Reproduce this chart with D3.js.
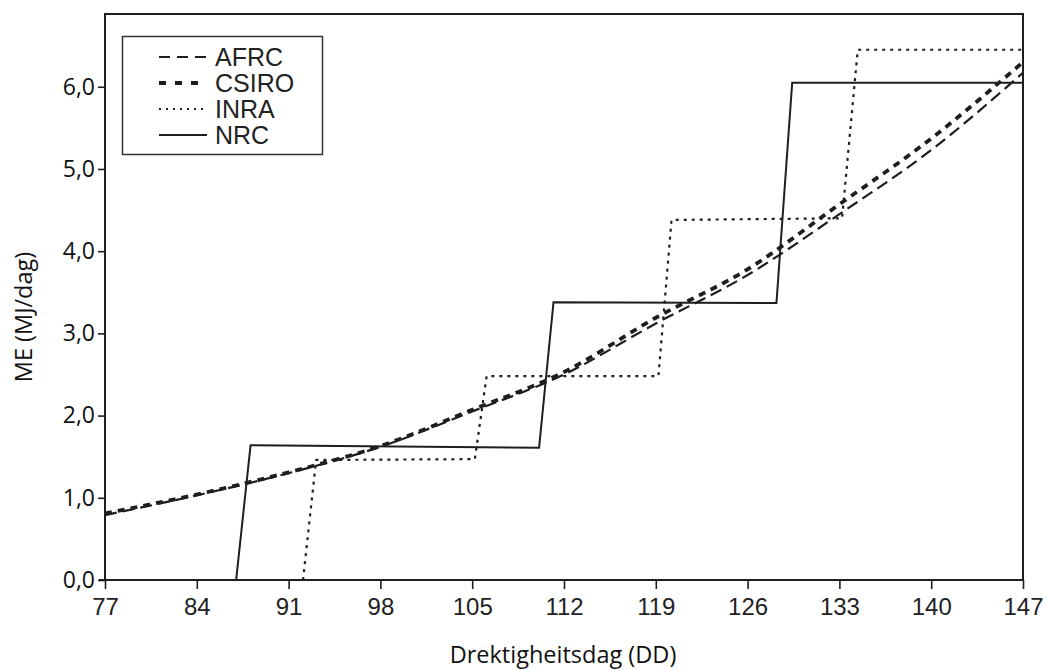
<!DOCTYPE html>
<meta charset="utf-8">
<body style="margin:0; background:#fff;">
<div id="chart"></div>
<style>
body { margin: 0; }
.tick text.xlab { font-family: 'Liberation Sans', Arial, sans-serif; font-size: 24px; fill: #222; }
.tick text.ylab { font-family: 'Open Sans', sans-serif; font-size: 23px; fill: #111; }
.title { font-family: 'Open Sans', sans-serif; font-size: 23.5px; fill: #111; }
.legend text { font-family: 'Liberation Sans', Arial, sans-serif; font-size: 25px; fill: #222; }
</style>
<script src="https://d3js.org/d3.v7.min.js"></script>
<script>
// Chart data
var days = [77, 84, 91, 98, 105, 112, 119, 126, 133, 140, 147];
var afrc = [0.79, 1.03, 1.30, 1.62, 2.05, 2.50, 3.12, 3.71, 4.45, 5.23, 6.17];
var csiro = [0.81, 1.04, 1.31, 1.63, 2.07, 2.53, 3.19, 3.78, 4.57, 5.37, 6.30];

// step functions (day, value) for the two tabulated systems
var nrcDays = [87.0, 88.1, 110.1, 111.2, 128.2, 129.4, 147];
var nrcVals = [0, 1.64, 1.61, 3.38, 3.37, 6.05, 6.05];
var inraDays = [92.1, 93.1, 105.2, 106.1, 119.2, 120.2, 133.2, 134.4, 147];
var inraVals = [0, 1.46, 1.47, 2.48, 2.48, 4.38, 4.40, 6.45, 6.45];

var xTicks = [77, 84, 91, 98, 105, 112, 119, 126, 133, 140, 147];
var yTicks = [0, 1, 2, 3, 4, 5, 6];
var legendNames = ['AFRC', 'CSIRO', 'INRA', 'NRC'];

const width = 1048, height = 670;
const mLeft = 105, mRight = 1023, mTop = 14, mBottom = 580;
const ink = '#1e1e1e';

const x = d3.scaleLinear().domain([77, 147]).range([mLeft, mRight]);
const y = d3.scaleLinear().domain([0, 6.885]).range([mBottom, mTop]);

const svg = d3.select('#chart').append('svg')
	.attr('width', width)
	.attr('height', height);

// frame (top + right)
svg.append('path')
	.attr('d', 'M' + mLeft + ',' + mTop + 'H' + mRight + 'V' + mBottom)
	.attr('fill', 'none')
	.attr('stroke', ink)
	.attr('stroke-width', 2);

var comma = function(v) { return d3.format('.1f')(v).replace('.', ','); };

// x axis
var xAxis = svg.append('g')
	.attr('transform', 'translate(0,' + mBottom + ')')
	.call(d3.axisBottom(x).tickValues(xTicks).tickSize(9).tickPadding(6).tickSizeOuter(0));
xAxis.selectAll('text').attr('class', 'xlab').attr('dy', '0.85em');

// y axis
var yAxis = svg.append('g')
	.attr('transform', 'translate(' + mLeft + ',0)')
	.call(d3.axisLeft(y).tickValues(yTicks).tickFormat(comma).tickSize(7).tickPadding(3).tickSizeOuter(0));
yAxis.selectAll('text').attr('class', 'ylab');

svg.selectAll('.domain').attr('stroke', ink).attr('stroke-width', 2);
svg.selectAll('.tick line').attr('stroke', ink).attr('stroke-width', 1.6);
// extend domains to cover corners
yAxis.select('.domain').attr('d', 'M0,' + (mTop - 1) + 'V' + (mBottom + 1));
xAxis.select('.domain').attr('d', 'M' + (mLeft - 6) + ',0H' + (mRight + 1));

// axis titles
svg.append('text')
	.attr('class', 'title')
	.attr('x', 563)
	.attr('y', 663)
	.attr('text-anchor', 'middle')
	.text('Drektigheitsdag (DD)');

svg.append('text')
	.attr('class', 'title')
	.attr('transform', 'translate(32,317) rotate(-90)')
	.attr('text-anchor', 'middle')
	.text('ME (MJ/dag)');

// series styles
var styles = {
	AFRC: { dash: '12,6', width: 2.2 },
	CSIRO: { dash: '7,6', width: 3.8 },
	INRA: { dash: '3,5', width: 2.2 },
	NRC: { dash: null, width: 2 }
};

var smooth = d3.line()
	.x(function(d) { return x(d[0]); })
	.y(function(d) { return y(d[1]); })
	.curve(d3.curveMonotoneX);

var straight = d3.line()
	.x(function(d) { return x(d[0]); })
	.y(function(d) { return y(d[1]); });

var series = [
	{ name: 'INRA', pts: d3.zip(inraDays, inraVals), gen: straight },
	{ name: 'NRC', pts: d3.zip(nrcDays, nrcVals), gen: straight },
	{ name: 'AFRC', pts: d3.zip(days, afrc), gen: smooth },
	{ name: 'CSIRO', pts: d3.zip(days, csiro), gen: smooth }
];

svg.append('g').selectAll('path')
	.data(series)
	.enter().append('path')
	.attr('d', function(d) { return d.gen(d.pts); })
	.attr('fill', 'none')
	.attr('stroke', ink)
	.attr('stroke-width', function(d) { return styles[d.name].width; })
	.attr('stroke-dasharray', function(d) { return styles[d.name].dash; });

// legend
var legend = svg.append('g').attr('class', 'legend');
legend.append('rect')
	.attr('x', 122.5).attr('y', 36.5)
	.attr('width', 200).attr('height', 118)
	.attr('fill', '#fff')
	.attr('stroke', '#333')
	.attr('stroke-width', 1.5);

var legendStyles = {
	AFRC: { dash: '11,7', width: 2 },
	CSIRO: { dash: '7,9', width: 4 },
	INRA: { dash: '2,5', width: 2 },
	NRC: { dash: null, width: 2 }
};

var rows = legend.selectAll('.row')
	.data(legendNames)
	.enter().append('g')
	.attr('class', 'row')
	.attr('transform', function(d, i) { return 'translate(0,' + (57 + i * 26) + ')'; });

rows.append('line')
	.attr('x1', 159).attr('x2', 207)
	.attr('stroke', ink)
	.attr('stroke-width', function(d) { return legendStyles[d].width; })
	.attr('stroke-dasharray', function(d) { return legendStyles[d].dash; });

rows.append('text')
	.attr('x', 215)
	.attr('y', 9)
	.text(function(d) { return d; });
</script>
</body>
